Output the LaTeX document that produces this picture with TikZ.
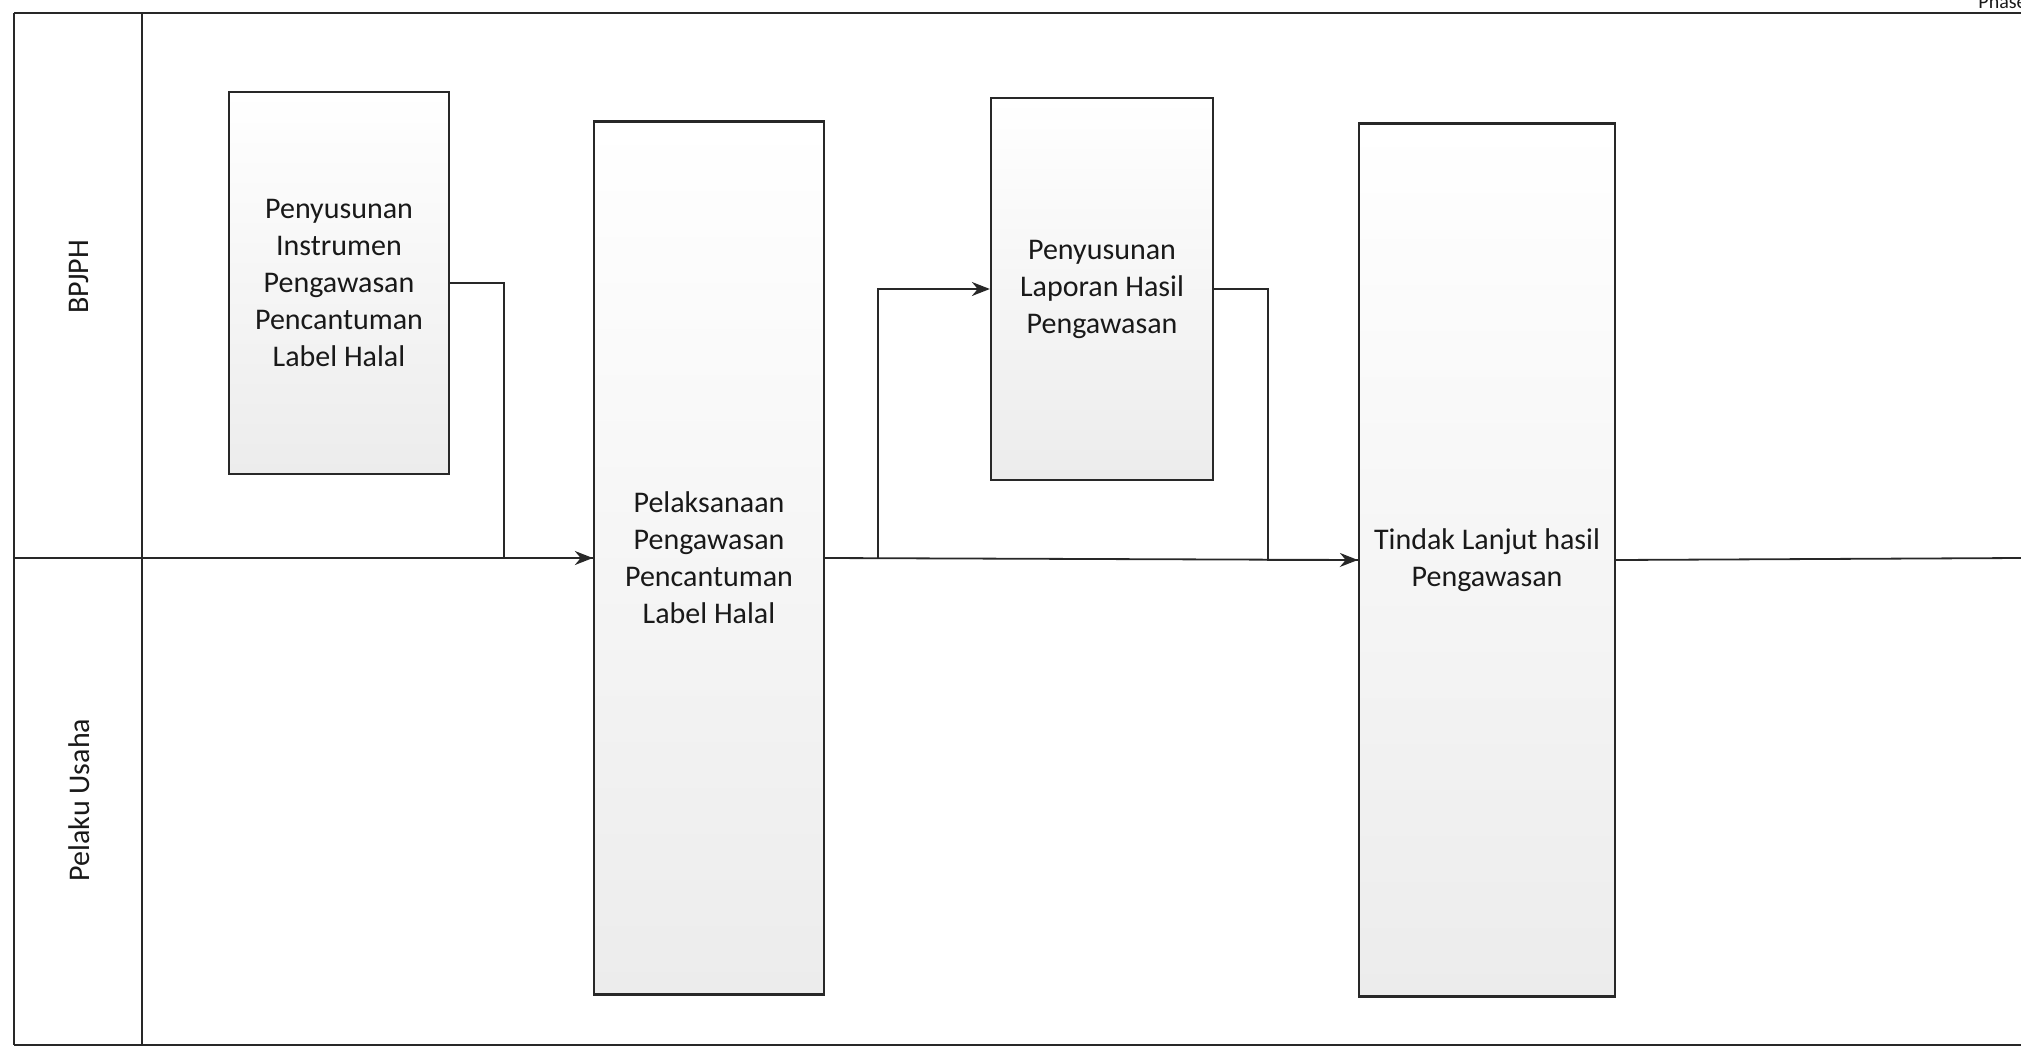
\documentclass[tikz,border=0pt]{standalone}
\usepackage{fontspec}
\setmainfont{Carlito}
\usetikzlibrary{arrows.meta, positioning, calc}
\definecolor{LineDark}  {RGB}{ 40, 40, 40}
\definecolor{TextDark}  {RGB}{ 25, 25, 25}
\definecolor{BoxTop}    {RGB}{255,255,255}
\definecolor{BoxBottom} {RGB}{236,236,236}
\tikzset{
  % Process box (common look)
  procbox/.style={
    rectangle, draw=LineDark, line width=1.15pt,
    top color=BoxTop, bottom color=BoxBottom,
    font=\fontsize{15pt}{18.5pt}\selectfont, text=TextDark,
    inner sep=4pt, align=center
  },
  % Box inside the BPJPH lane only
  shortbox/.style={
    procbox, minimum width=110pt, minimum height=191pt
  },
  % Box spanning both lanes
  longbox/.style={
    procbox, minimum height=436.5pt
  },
  % Rotated lane title
  lanelabel/.style={
    rotate=90, font=\fontsize{15pt}{18.5pt}\selectfont, text=TextDark
  },
  % Small header text
  phaselabel/.style={
    font=\fontsize{10pt}{12pt}\selectfont, text=TextDark, inner sep=0pt
  },
  % Pool frame lines
  frameline/.style={
    line width=1.2pt, color=LineDark
  },
  % Flow arrows
  flowarrow/.style={
    -{Stealth[length=9pt, width=7pt]}, line width=0.9pt, color=LineDark
  },
  % Plain connector pieces
  flowline/.style={
    line width=0.9pt, color=LineDark
  }
}

\begin{document}
\begin{tikzpicture}

  \useasboundingbox (0,0) rectangle (1010.5pt,-527pt);

  % ── Pool frame ───────────────────────────────────────────────────────────
  \coordinate (topL)  at (7pt,-6.5pt);
  \coordinate (topR)  at (1010.5pt,-6.5pt);
  \coordinate (botL)  at (7pt,-522.5pt);
  \coordinate (botR)  at (1010.5pt,-522.5pt);
  \coordinate (colT)  at (71pt,-6.5pt);
  \coordinate (colB)  at (71pt,-522.5pt);
  \coordinate (laneL) at (7pt,-279pt);
  \coordinate (laneR) at (1010.5pt,-279pt);

  \draw[frameline] (topL) -- (topR);
  \draw[frameline] (botL) -- (botR);
  \draw[frameline] (topL) -- (botL);
  \draw[frameline] (colT) -- (colB);

  \node[phaselabel, anchor=base west] (phase) at (989pt,-4.5pt) {Phase};

  % ── Lane titles ──────────────────────────────────────────────────────────
  \node[lanelabel] (lane1) at (39.5pt,-138.5pt) {BPJPH};
  \node[lanelabel] (lane2) at (39.5pt,-400pt)   {Pelaku Usaha};

  % ── Process boxes ────────────────────────────────────────────────────────
  \node[shortbox] (b1) at (169.5pt,-141.5pt)
        {Penyusunan\\Instrumen\\Pengawasan\\Pencantuman\\Label Halal};
  \node[longbox, minimum width=115pt] (b2) at (354.5pt,-279pt)
        {Pelaksanaan\\Pengawasan\\Pencantuman\\Label Halal};
  \node[shortbox, minimum width=111pt] (b3) at (551pt,-144.5pt)
        {Penyusunan\\Laporan Hasil\\Pengawasan};
  \node[longbox, minimum width=128pt] (b4) at (743.5pt,-280pt)
        {Tindak Lanjut hasil\\Pengawasan};

  % ── Connectors ───────────────────────────────────────────────────────────
  \draw[flowline]  (laneL) -- (b2.west);
  \draw[flowarrow] (b1.east) -- ++(27pt,0) |- (b2.west);

  \draw[flowarrow] (b2.east) -- (b4.west);
  \coordinate (split) at ($(b2.east)+(26.5pt,0)$);
  \draw[flowarrow] (split) |- (b3.west);

  \draw[flowline]  (b3.east) -- ++(27pt,0) |- (b4.west);
  \draw[flowline]  (b4.east) -- (laneR);

\end{tikzpicture}
\end{document}
